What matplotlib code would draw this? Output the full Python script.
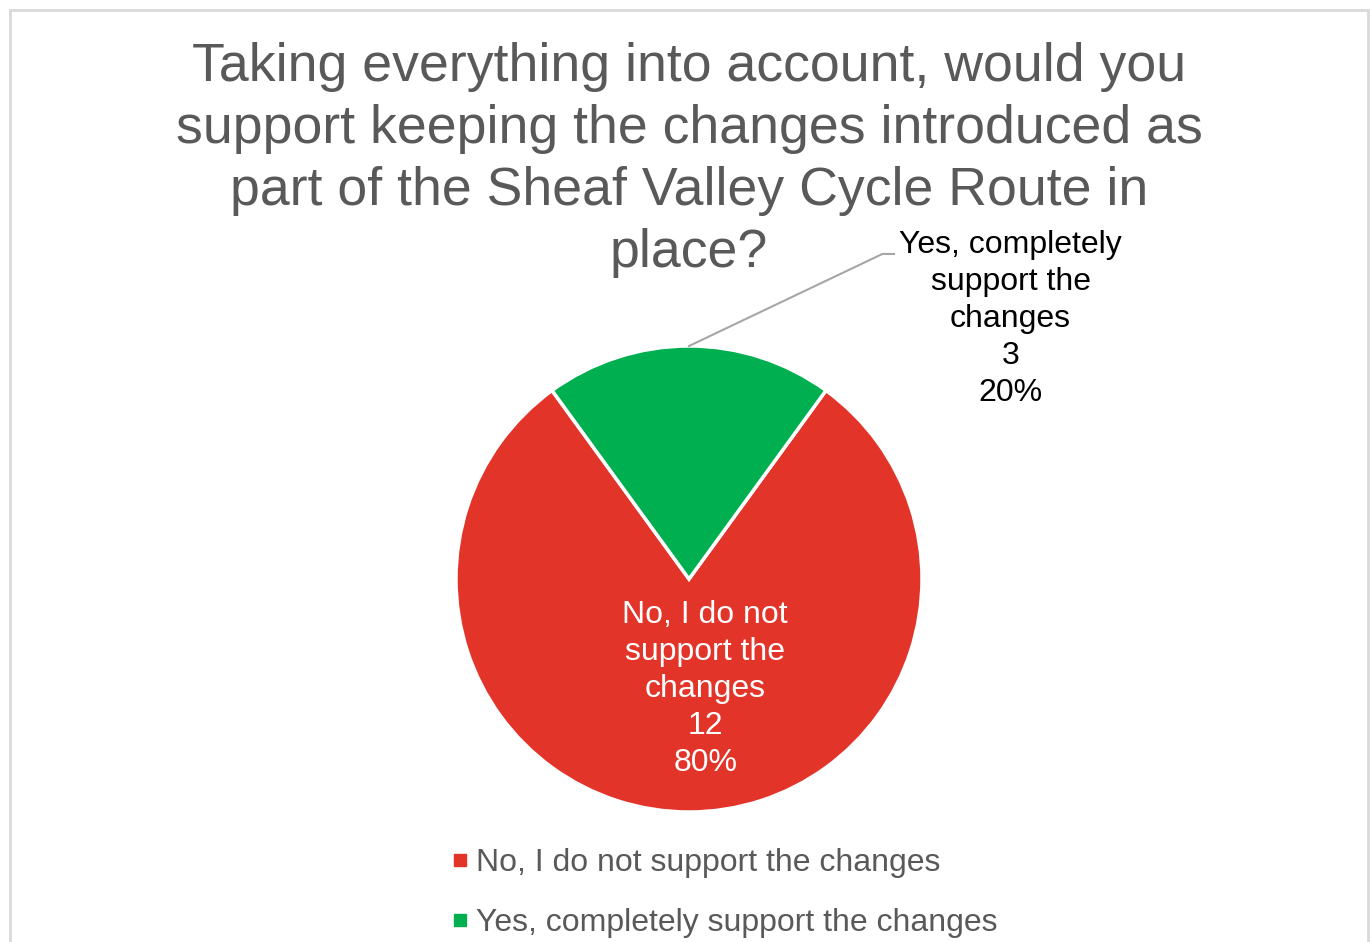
import numpy as np
import matplotlib.pyplot as plt
from matplotlib.patches import Rectangle
from matplotlib.lines import Line2D

plt.rcParams['font.family'] = ['Liberation Sans', 'DejaVu Sans']

title_lines = ["Taking everything into account, would you",
               "support keeping the changes introduced as",
               "part of the Sheaf Valley Cycle Route in",
               "place?"]
categories = ["No, I do not support the changes", "Yes, completely support the changes"]
label_text = ["No, I do not\nsupport the\nchanges", "Yes, completely\nsupport the\nchanges"]
counts = [12, 3]
colors = ["#E3342A", "#00B050"]

W, H = 1370, 942
fig = plt.figure(figsize=(W / 100, H / 100), dpi=100)

# light frame around the chart area
fig.patches.append(Rectangle((10 / W, -0.05), (W - 12) / W, (H - 10) / H + 0.05,
                             transform=fig.transFigure, fill=False,
                             edgecolor="#d9d9d9", linewidth=2))

cx, cy, r = 689, 579, 233
ax = fig.add_axes([(cx - r) / W, (H - cy - r) / H, 2 * r / W, 2 * r / H])
wedges, _ = ax.pie(counts, colors=colors, startangle=54, counterclock=False, radius=1,
                   wedgeprops=dict(edgecolor="white", linewidth=2.5))
ax.set_xlim(-1, 1)
ax.set_ylim(-1, 1)
ax.set_aspect("equal")
ax.axis("off")

total = sum(counts)
txt = [f"{label_text[i]}\n{counts[i]}\n{counts[i] / total:.0%}" for i in range(2)]

# inside label for the red slice
w = wedges[0]
mid = np.deg2rad((w.theta1 + w.theta2) / 2)
ax.text(0.46 * np.cos(mid) + 0.07, 0.46 * np.sin(mid) - 0.013, txt[0], color="white",
        fontsize=23, ha="center", va="center", linespacing=1.3)

# outside label with leader for the green slice
w = wedges[1]
mid = np.deg2rad((w.theta1 + w.theta2) / 2)
x0, y0 = np.cos(mid), np.sin(mid)
ax.plot([x0, x0 + 0.83, x0 + 0.88], [y0, y0 + 0.395, y0 + 0.395],
        color="#a6a6a6", linewidth=1.5, clip_on=False)
ax.text(x0 + 1.38, y0 + 0.117, txt[1], color="black", fontsize=23,
        ha="center", va="center", linespacing=1.3)

# title, one text per line
for i, line in enumerate(title_lines):
    fig.text(689 / W, 1 - (81 + 62 * i) / H, line, ha="center", va="baseline",
             fontsize=38.6, color="#595959")

handles = [Line2D([], [], marker="s", linestyle="none", markersize=8,
                  markerfacecolor=c, markeredgecolor=c) for c in colors]
fig.legend(handles, categories, loc="upper left",
           bbox_to_anchor=(451 / W, 1 - 848 / H), frameon=False,
           fontsize=23, labelcolor="#595959", handlelength=0.55,
           handletextpad=0.22, labelspacing=0.93, borderpad=0, borderaxespad=0)

fig.savefig("out.png", dpi=100)
